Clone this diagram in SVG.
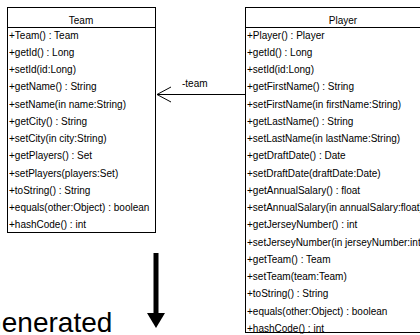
<svg xmlns="http://www.w3.org/2000/svg" width="420" height="335" viewBox="0 0 420 335">
<style>
.box{fill:#fff;stroke:#000;stroke-width:1}
.t{font-family:"Liberation Sans",Arial,sans-serif;font-size:10px;fill:#000}
.h{font-family:"Liberation Sans",Arial,sans-serif;font-size:10px;fill:#000;text-anchor:middle}
.c{stroke:#000;stroke-width:1;fill:none}
</style>
<rect width="420" height="335" fill="#fff"/>
<g id="team">
<rect class="box" x="7.5" y="7.5" width="148" height="225"/>
<line class="c" x1="7.5" y1="27.5" x2="155.5" y2="27.5"/>
<text class="h" x="81" y="23.5">Team</text>
<text class="t" x="9" y="38.5">+Team() : Team</text>
<text class="t" x="9" y="55.75">+getId() : Long</text>
<text class="t" x="9" y="73">+setId(id:Long)</text>
<text class="t" x="9" y="90.25">+getName() : String</text>
<text class="t" x="9" y="107.5">+setName(in name:String)</text>
<text class="t" x="9" y="124.75">+getCity() : String</text>
<text class="t" x="9" y="142">+setCity(in city:String)</text>
<text class="t" x="9" y="159.25">+getPlayers() : Set</text>
<text class="t" x="9" y="176.5">+setPlayers(players:Set)</text>
<text class="t" x="9" y="193.75">+toString() : String</text>
<text class="t" x="9" y="211">+equals(other:Object) : boolean</text>
<text class="t" x="9" y="228.25">+hashCode() : int</text>
</g>
<g id="player">
<rect class="box" x="245.5" y="7.5" width="200" height="325"/>
<line class="c" x1="245.5" y1="27.5" x2="445" y2="27.5"/>
<text class="h" x="343" y="23.5">Player</text>
<text class="t" x="247" y="38.5">+Player() : Player</text>
<text class="t" x="247" y="55.75">+getId() : Long</text>
<text class="t" x="247" y="73">+setId(id:Long)</text>
<text class="t" x="247" y="90.25">+getFirstName() : String</text>
<text class="t" x="247" y="107.5">+setFirstName(in firstName:String)</text>
<text class="t" x="247" y="124.75">+getLastName() : String</text>
<text class="t" x="247" y="142">+setLastName(in lastName:String)</text>
<text class="t" x="247" y="159.25">+getDraftDate() : Date</text>
<text class="t" x="247" y="176.5">+setDraftDate(draftDate:Date)</text>
<text class="t" x="247" y="193.75">+getAnnualSalary() : float</text>
<text class="t" x="247" y="211">+setAnnualSalary(in annualSalary:float)</text>
<text class="t" x="247" y="228.25">+getJerseyNumber() : int</text>
<text class="t" x="247" y="245.5">+setJerseyNumber(in jerseyNumber:int)</text>
<text class="t" x="247" y="262.75">+getTeam() : Team</text>
<text class="t" x="247" y="280">+setTeam(team:Team)</text>
<text class="t" x="247" y="297.25">+toString() : String</text>
<text class="t" x="247" y="314.5">+equals(other:Object) : boolean</text>
<text class="t" x="247" y="331.75">+hashCode() : int</text>
</g>
<g id="connectors">
<line class="c" x1="245" y1="94.5" x2="157" y2="94.5"/>
<polyline class="c" points="171,87 157,94.5 171,102"/>
<text class="t" x="182" y="87">-team</text>
</g>
<g id="generated">
<line x1="156" y1="253" x2="156" y2="315" stroke="#000" stroke-width="5"/>
<polygon points="147,313 165,313 156,328" fill="#000"/>
<text x="-20" y="332" font-family="'Liberation Sans',Arial,sans-serif" font-size="28" fill="#000">Generated</text>
</g>
</svg>
